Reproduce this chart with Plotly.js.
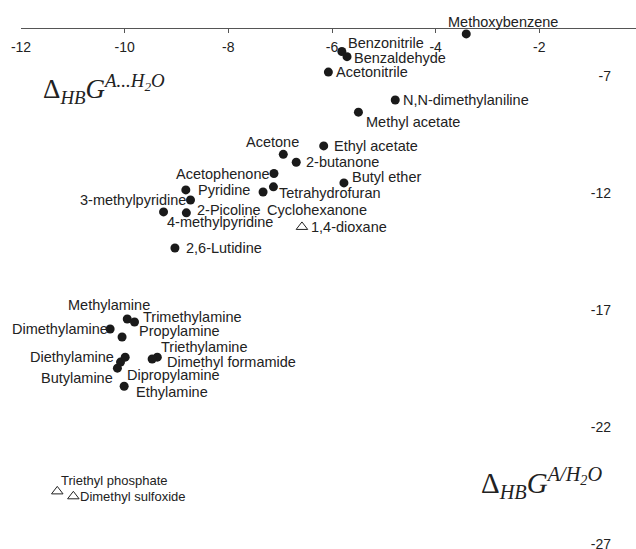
<!DOCTYPE html>
<html>
<head>
<meta charset="utf-8">
<script src="https://cdn.plot.ly/plotly-3.0.1.min.js"></script>
<style>html,body{margin:0;padding:0;background:#fff}#chart{width:636px;height:549px}</style>
</head>
<body>
<div id="chart"></div>
<script>
// ---- data ----
const dotNames = ["Methoxybenzene","Benzonitrile","Benzaldehyde","Acetonitrile","N,N-dimethylaniline",
  "Methyl acetate","Ethyl acetate","Acetone","2-butanone","Acetophenone","Butyl ether","Tetrahydrofuran",
  "Cyclohexanone","Pyridine","3-methylpyridine","2-Picoline","4-methylpyridine","2,6-Lutidine",
  "Methylamine","Trimethylamine","Dimethylamine","Propylamine","Triethylamine","Dimethyl formamide",
  "Diethylamine","Dipropylamine","Butylamine","Ethylamine"];
const dotX = [-3.41,-5.81,-5.71,-6.07,-4.78,-5.49,-6.16,-6.94,-6.69,-7.12,-5.77,-7.13,
  -7.33,-8.82,-8.73,-8.81,-9.25,-9.03,
  -9.95,-9.81,-10.28,-10.05,-9.37,-9.47,-10.08,-9.99,-10.14,-10.01];
const dotY = [-5.21,-5.96,-6.18,-6.84,-8.03,-8.55,-9.99,-10.35,-10.69,-11.17,-11.57,-11.74,
  -11.96,-11.87,-12.30,-12.85,-12.81,-14.35,
  -17.38,-17.51,-17.81,-18.15,-19.01,-19.09,-19.22,-19.01,-19.48,-20.25];

const triNames = ["1,4-dioxane","Triethyl phosphate","Dimethyl sulfoxide"];
const triX = [-6.58,-11.30,-10.99];
const triY = [-13.45,-24.74,-24.95];

const xTicks = [-12,-10,-8,-6,-4,-2];
const xTickText = ["-12","-10","-8","-6","-4","-2"];
const yTicks = [-7,-12,-17,-22,-27];
const yTickText = ["-7","-12","-17","-22","-27"];

// ---- label placement (style only): [xanchor, dx px, dy px, font size] ----
const labelPlace = {
  "Methoxybenzene":["center",37,12,14.5],
  "Benzonitrile":["left",5,8,14.5],
  "Benzaldehyde":["left",6,-1,14.5],
  "Acetonitrile":["left",7,0,14.5],
  "N,N-dimethylaniline":["left",7,0,14.5],
  "Methyl acetate":["left",7,-10,14.5],
  "Ethyl acetate":["left",9,0,14.5],
  "Acetone":["center",-11,12,14.5],
  "2-butanone":["left",9,0,14.5],
  "Acetophenone":["right",-3,0,14.5],
  "Butyl ether":["left",7,6,14.5],
  "Tetrahydrofuran":["left",5,-6,14.5],
  "Cyclohexanone":["left",3,-18,14.5],
  "Pyridine":["left",11,0,14.5],
  "3-methylpyridine":["right",-3,0,14.5],
  "2-Picoline":["left",10,3,14.5],
  "4-methylpyridine":["left",2,-10,14.5],
  "2,6-Lutidine":["left",10,0,14.5],
  "Methylamine":["center",-18,14,14.5],
  "Trimethylamine":["left",7,5,14.5],
  "Dimethylamine":["right",-1,0,14.5],
  "Propylamine":["left",16,6,14.5],
  "Triethylamine":["left",3,10,14.5],
  "Dimethyl formamide":["left",14,-3,14.5],
  "Diethylamine":["right",-6,5,14.5],
  "Dipropylamine":["left",1,-18,14.5],
  "Butylamine":["right",-3,-10,14.5],
  "Ethylamine":["left",11,-6,14.5],
  "1,4-dioxane":["left",8,0,14.5],
  "Triethyl phosphate":["left",3,11,13],
  "Dimethyl sulfoxide":["left",6,0,13]
};

const labelFont = "Liberation Sans, Arial, sans-serif";
function makeLabels(names, xs, ys){
  return names.map((n,i)=>{
    const p = labelPlace[n];
    return {x: xs[i], y: ys[i], xref:'x', yref:'y', text: n, showarrow:false,
      xanchor: p[0], yanchor:'middle', xshift: p[1], yshift: p[2],
      borderpad:0, font:{family:labelFont, size:p[3], color:'#222'}};
  });
}

const traces = [
  {type:'scatter', mode:'markers', x: dotX, y: dotY, text: dotNames, hoverinfo:'text',
   marker:{symbol:'circle', size:9, color:'#1a1a1a'}, cliponaxis:false, showlegend:false},
  {type:'scatter', mode:'markers', x: triX, y: triY, text: triNames, hoverinfo:'text',
   marker:{symbol:'triangle-up-open', size:10, color:'#222', line:{width:1}}, cliponaxis:false, showlegend:false}
];

const serif = 'Liberation Serif, Times New Roman, serif';
const annotations = makeLabels(dotNames, dotX, dotY).concat(makeLabels(triNames, triX, triY));
annotations.push({xref:'paper', yref:'paper', x:0.033, y:0.885, xanchor:'left', yanchor:'middle',
  showarrow:false, text:'Δ<sub><i>HB</i></sub><i>G</i><sup><i>A...H<sub>2</sub>O</i></sup>',
  font:{family:serif, size:27, color:'#222'}});
annotations.push({xref:'paper', yref:'paper', x:0.745, y:0.127, xanchor:'left', yanchor:'middle',
  showarrow:false, text:'Δ<sub><i>HB</i></sub><i>G</i><sup><i>A/H<sub>2</sub>O</i></sup>',
  font:{family:serif, size:29, color:'#222'}});

const layout = {
  width:636, height:549,
  margin:{l:21, r:0, t:29, b:0, pad:0},
  paper_bgcolor:'#fff', plot_bgcolor:'#fff',
  showlegend:false,
  xaxis:{side:'top', range:[-12,-0.135], tickvals:xTicks, ticktext:xTickText,
    ticks:'inside', ticklen:4, tickcolor:'#555', tickwidth:1,
    ticklabelposition:'inside', ticklabeloverflow:'allow', ticklabelstandoff:9,
    showline:true, linecolor:'#555', linewidth:1, mirror:false,
    showgrid:false, zeroline:false,
    tickfont:{family:labelFont, size:14, color:'#222'}},
  yaxis:{side:'right', range:[-27.2,-5], tickvals:yTicks, ticktext:yTickText,
    ticks:'', ticklabelposition:'inside', ticklabeloverflow:'allow', ticklabelstandoff:22,
    showline:false, showgrid:false, zeroline:false,
    tickfont:{family:labelFont, size:14, color:'#222'}},
  annotations: annotations
};

Plotly.newPlot('chart', traces, layout, {staticPlot:true, displayModeBar:false});
</script>
</body>
</html>
